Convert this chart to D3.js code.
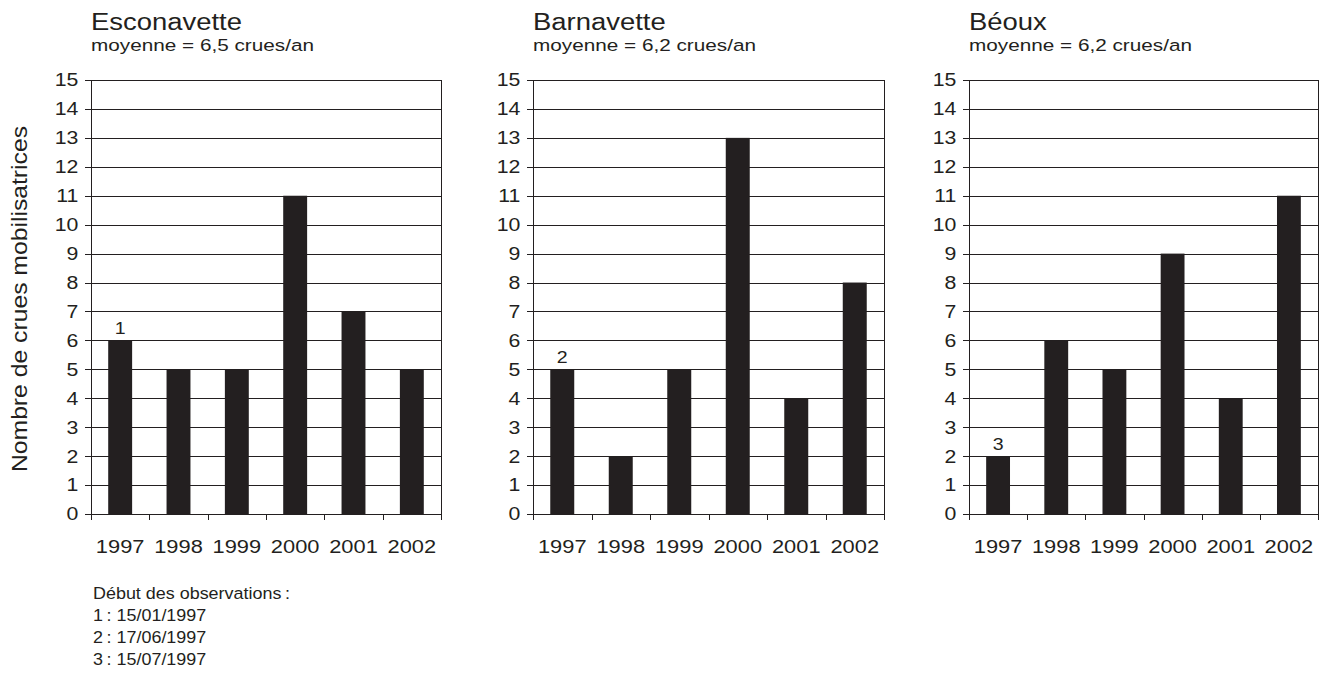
<!DOCTYPE html>
<html>
<head>
<meta charset="utf-8">
<script src="https://cdn.jsdelivr.net/npm/d3@7.9.0/dist/d3.min.js"></script>
<style>
  body { margin: 0; background: #fff; }
  svg { display: block; }
  text { font-family: "Liberation Sans", Arial, sans-serif; fill: #231f20; }
</style>
</head>
<body>
<svg id="chart" width="1319" height="680"></svg>
<script>
// données
const years = ['1997', '1998', '1999', '2000', '2001', '2002'];
const rivers = ['Esconavette', 'Barnavette', 'Béoux'];
const means = ['moyenne = 6,5 crues/an', 'moyenne = 6,2 crues/an', 'moyenne = 6,2 crues/an'];
const esconavette = [6, 5, 5, 11, 7, 5];
const barnavette = [5, 2, 5, 13, 4, 8];
const beoux = [2, 6, 5, 9, 4, 11];
const firstNotes = ['1', '2', '3'];
const yTicks = [0, 1, 2, 3, 4, 5, 6, 7, 8, 9, 10, 11, 12, 13, 14, 15];
const footnotes = ['Début des observations\u2009:', '1\u2009: 15/01/1997', '2\u2009: 17/06/1997', '3\u2009: 15/07/1997'];
const yLabel = 'Nombre de crues mobilisatrices';

const series = [esconavette, barnavette, beoux];

// mise en page
const INK = '#231f20';
const SX = 1.15; // la police d'origine est plus large qu'Arial
const panelX = [[91, 441], [533, 884], [969, 1318]];
const plotTop = 80, plotBottom = 514;

const svg = d3.select('#chart');

const y = d3.scaleLinear().domain([0, 15]).range([plotBottom, plotTop]);

series.forEach((values, i) => {
  const [x0, x1] = panelX[i];
  const g = svg.append('g');

  const x = d3.scaleBand().domain(years).range([x0, x1]).paddingInner(0.59).paddingOuter(0.295);
  const xEdge = d3.scaleLinear().domain([0, years.length]).range([x0, x1]);

  // quadrillage
  g.append('g')
    .attr('transform', `translate(${x0},0)`)
    .call(d3.axisLeft(y).tickValues(yTicks).tickSize(-(x1 - x0)).tickFormat(''))
    .call(s => s.select('.domain').remove())
    .call(s => s.selectAll('line').attr('stroke', INK).attr('stroke-width', 1).attr('shape-rendering', 'crispEdges'));

  // cadre droit
  g.append('line')
    .attr('x1', x1).attr('x2', x1).attr('y1', y(15)).attr('y2', y(0))
    .attr('stroke', INK).attr('shape-rendering', 'crispEdges');

  // barres
  g.selectAll('rect.bar')
    .data(values)
    .join('rect')
    .attr('class', 'bar')
    .attr('x', (d, j) => x(years[j]))
    .attr('width', x.bandwidth())
    .attr('y', d => y(d))
    .attr('height', d => y(0) - y(d))
    .attr('fill', INK);

  // axe Y
  const ya = g.append('g')
    .attr('transform', `translate(${x0},0)`)
    .call(d3.axisLeft(y).tickValues(yTicks).tickSize(6).tickPadding(5));
  ya.selectAll('line, path').attr('stroke', INK).attr('shape-rendering', 'crispEdges');
  ya.selectAll('text')
    .attr('font-size', 18.5)
    .attr('fill', INK)
    .attr('transform', `scale(${SX},1)`);

  // axe X : graduations aux limites
  const xa = g.append('g')
    .attr('transform', `translate(0,${plotBottom})`)
    .call(d3.axisBottom(xEdge).ticks(years.length).tickSize(6).tickFormat(''));
  xa.selectAll('line, path').attr('stroke', INK).attr('shape-rendering', 'crispEdges');

  // étiquettes des années
  const xl = g.append('g')
    .attr('transform', `translate(0,${plotBottom})`)
    .call(d3.axisBottom(x).tickSize(0).tickPadding(39));
  xl.select('.domain').remove();
  xl.selectAll('text')
    .attr('font-size', 19)
    .attr('fill', INK)
    .attr('dy', 0)
    .attr('transform', `scale(${SX},1)`);

  // note sur la première barre
  g.append('text')
    .attr('transform', `translate(${x(years[0]) + x.bandwidth() / 2},${y(values[0]) - 6}) scale(${SX},1)`)
    .attr('text-anchor', 'middle')
    .attr('font-size', 17)
    .text(firstNotes[i]);

  // titres
  g.append('text')
    .attr('transform', `translate(${x0},30) scale(1.12,1)`)
    .attr('font-size', 24.5)
    .text(rivers[i]);
  g.append('text')
    .attr('transform', `translate(${x0},51) scale(1.22,1)`)
    .attr('font-size', 17)
    .text(means[i]);
});

// titre de l'axe Y
svg.append('text')
  .attr('transform', `translate(27,299) rotate(-90) scale(1.15,1)`)
  .attr('text-anchor', 'middle')
  .attr('font-size', 21.5)
  .text(yLabel);

// notes de bas de page
svg.append('g')
  .selectAll('text')
  .data(footnotes)
  .join('text')
  .attr('transform', (d, i) => `translate(93,${599 + i * 22}) scale(1.055,1)`)
  .attr('font-size', 17)
  .text(d => d);
</script>
</body>
</html>
